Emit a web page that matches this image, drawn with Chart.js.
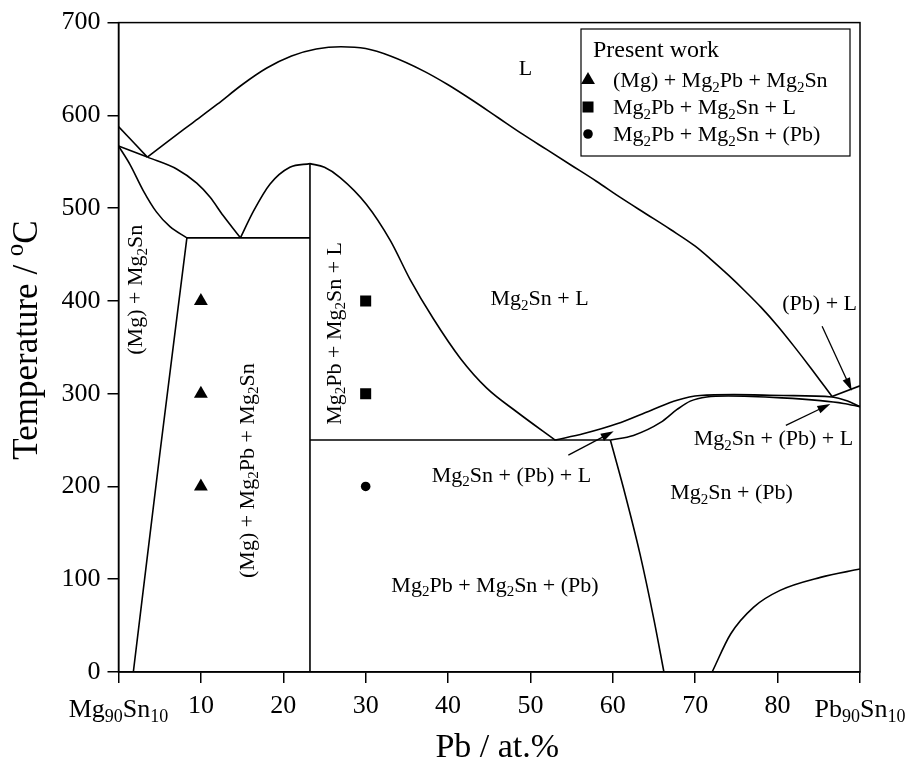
<!DOCTYPE html>
<html>
<head>
<meta charset="utf-8">
<script src="https://cdn.jsdelivr.net/npm/chart.js@4.4.0/dist/chart.umd.min.js"></script>
<style>
  html, body { margin: 0; padding: 0; background: #fff; }
  canvas { display: block; }
</style>
</head>
<body>
<canvas id="graphCanvas" width="908" height="770"></canvas>
<script>
// Phase boundaries, each point is [Pb at.%, temperature in C]
const liqMgEnd = [[0, 588], [3.5, 555]];
const solMgEnd = [[0, 567], [3.5, 555]];
const mgSolvusTop = [[0, 567], [1.4, 547], [3.0, 519], [4.6, 496], [6.25, 480], [8.3, 468]];
const mgSolvus = [[8.3, 468], [5.0, 234], [1.8, 0]];
const liqMgToEut = [[3.5, 555], [7.1, 542], [9.5, 527], [11.1, 512], [12.7, 492], [14.8, 468]];
const liqMg2Pb = [[14.8, 468], [16.4, 497], [18.4, 526], [20.8, 544], [23.24, 548]];
const liqMg2SnTop = [[3.5, 555], [6, 572], [9, 592], [12, 612], [15, 633], [18, 651], [21, 664],
  [24, 671.5], [27, 674], [30, 672], [33, 664], [37, 648], [40, 633], [43, 616], [46, 598],
  [49, 580], [52, 563], [55, 546], [58, 529], [61, 511], [64, 494], [67, 477], [70, 459],
  [72, 444], [74, 428], [76, 411], [78, 393], [80, 373], [82, 351], [84, 328], [86.6, 297]];
const liqMg2SnLow = [[23.24, 548], [25.0, 544], [26.9, 533], [30.1, 504], [33.0, 465], [35.4, 423],
  [38.2, 381], [41.5, 338], [44.7, 306], [48.4, 280], [53.0, 250]];
const mg2PbLine = [[23.24, 548], [23.24, 0]];
const eutMg = [[8.3, 468], [23.24, 468]];
const eutPb = [[23.24, 250], [59.7, 250]];
const band3Upper = [[53.0, 250], [56.5, 257], [60.5, 267.5], [64.6, 282], [67.8, 293], [70.6, 298],
  [74.7, 299], [80.7, 298], [86.6, 296.5], [88.5, 292], [90, 286]];
const band3Lower = [[59.7, 250], [62.5, 255], [65.8, 269], [67.8, 283], [69.4, 292], [71.4, 296.5],
  [74.0, 297.5], [80.5, 295.5], [85.2, 292.5], [88.0, 289.5], [90, 286]];
const liqPb = [[86.6, 297], [90, 308.5]];
const mg2SnPbLeft = [[59.7, 250], [61.3, 198], [63.3, 127], [65.0, 56], [66.2, 0]];
const pbSolvus = [[72.05, 0], [74.3, 41], [77.1, 70], [80.3, 88], [85.2, 102], [90, 111]];

const boundaries = [liqMgEnd, solMgEnd, mgSolvusTop, mgSolvus, liqMgToEut, liqMg2Pb, liqMg2SnTop,
  liqMg2SnLow, mg2PbLine, eutMg, eutPb, band3Upper, band3Lower, liqPb, mg2SnPbLeft, pbSolvus];

// Present work, measured points
const triX = [10, 10, 10];
const triT = [400, 300, 200];
const sqX = [30, 30];
const sqT = [400, 300];
const dotX = [30];
const dotT = [200];

const legendNames = ['(Mg) + Mg_{2}Pb + Mg_{2}Sn', 'Mg_{2}Pb + Mg_{2}Sn + L', 'Mg_{2}Pb + Mg_{2}Sn + (Pb)'];

// Axis ticks
const xTicks = [0, 10, 20, 30, 40, 50, 60, 70, 80, 90];
const yTicks = [0, 100, 200, 300, 400, 500, 600, 700];
const xEndLabels = ['Mg_{90}Sn_{10}', 'Pb_{90}Sn_{10}'];

// Region labels: text, x, T, rotated
const regionText = ['L', '(Mg) + Mg_{2}Sn', '(Mg) + Mg_{2}Pb + Mg_{2}Sn', 'Mg_{2}Pb + Mg_{2}Sn + L',
  'Mg_{2}Sn + L', '(Pb) + L', 'Mg_{2}Sn + (Pb) + L', 'Mg_{2}Sn + (Pb) + L', 'Mg_{2}Sn + (Pb)',
  'Mg_{2}Pb + Mg_{2}Sn + (Pb)'];
const regionX = [49.4, 2.0, 15.55, 26.1, 51.1, 85.1, 79.5, 47.7, 74.4, 45.7];
const regionT = [651, 412, 217, 365, 403, 398, 252, 213, 194, 94];
const regionRot = [0, 1, 1, 1, 0, 0, 0, 0, 0, 0];

// Arrows: from [x, T] to [x, T]
const arrows = [
  [[85.4, 372.7], [89.0, 303.2]],
  [[81.0, 265.8], [86.4, 288.9]],
  [[54.6, 233.7], [60.1, 259.4]]
];

const FONT = '"Liberation Serif", "Times New Roman", serif';

function pts(arr) {
  return arr.map(p => ({ x: p[0], y: p[1] }));
}
function zipPts(xs, ys) {
  return xs.map((x, i) => ({ x: x, y: ys[i] }));
}

// text with _{sub} and ^{sup}
function richParts(str) {
  const parts = [];
  const re = /([_^])\{([^}]*)\}|([^_^]+)/g;
  let m;
  while ((m = re.exec(str))) {
    if (m[3]) parts.push({ t: m[3], k: 0 });
    else parts.push({ t: m[2], k: m[1] === '_' ? 1 : -1 });
  }
  return parts;
}
function drawRich(ctx, str, x, y, size, align) {
  const parts = richParts(str);
  const small = Math.round(size * 0.7);
  let w = 0;
  parts.forEach(p => {
    ctx.font = (p.k ? small : size) + 'px ' + FONT;
    p.w = ctx.measureText(p.t).width;
    w += p.w;
  });
  let cx = align === 'center' ? x - w / 2 : (align === 'right' ? x - w : x);
  const base = y + size * 0.33;
  ctx.textAlign = 'left';
  ctx.textBaseline = 'alphabetic';
  parts.forEach(p => {
    ctx.font = (p.k ? small : size) + 'px ' + FONT;
    const dy = p.k === 1 ? size * 0.2 : (p.k === -1 ? -size * 0.4 : 0);
    ctx.fillText(p.t, cx, base + dy);
    cx += p.w;
  });
}

const decorPlugin = {
  id: 'decor',
  afterDatasetsDraw(chart) {
    const ctx = chart.ctx;
    const xs = chart.scales.x, ys = chart.scales.y;
    const a = chart.chartArea;
    ctx.save();
    ctx.fillStyle = '#000';
    ctx.strokeStyle = '#000';

    // frame
    ctx.lineWidth = 1.5;
    ctx.strokeRect(a.left, a.top, a.right - a.left, a.bottom - a.top);

    // arrows
    arrows.forEach(ar => {
      const x0 = xs.getPixelForValue(ar[0][0]), y0 = ys.getPixelForValue(ar[0][1]);
      const x1 = xs.getPixelForValue(ar[1][0]), y1 = ys.getPixelForValue(ar[1][1]);
      const ang = Math.atan2(y1 - y0, x1 - x0);
      const hl = 13, hw = 4;
      ctx.lineWidth = 1.3;
      ctx.beginPath();
      ctx.moveTo(x0, y0);
      ctx.lineTo(x1 - Math.cos(ang) * hl * 0.8, y1 - Math.sin(ang) * hl * 0.8);
      ctx.stroke();
      ctx.beginPath();
      ctx.moveTo(x1, y1);
      ctx.lineTo(x1 - Math.cos(ang) * hl - Math.sin(ang) * hw, y1 - Math.sin(ang) * hl + Math.cos(ang) * hw);
      ctx.lineTo(x1 - Math.cos(ang) * hl + Math.sin(ang) * hw, y1 - Math.sin(ang) * hl - Math.cos(ang) * hw);
      ctx.closePath();
      ctx.fill();
    });

    // region labels
    regionText.forEach((t, i) => {
      const px = xs.getPixelForValue(regionX[i]);
      const py = ys.getPixelForValue(regionT[i]);
      if (regionRot[i]) {
        ctx.save();
        ctx.translate(px, py);
        ctx.rotate(-Math.PI / 2);
        drawRich(ctx, t, 0, 0, 22, 'center');
        ctx.restore();
      } else {
        drawRich(ctx, t, px, py, 22, 'center');
      }
    });

    // legend box
    const bx = 581, by = 29, bw = 269, bh = 127;
    ctx.fillStyle = '#fff';
    ctx.fillRect(bx, by, bw, bh);
    ctx.fillStyle = '#000';
    ctx.lineWidth = 1.2;
    ctx.strokeRect(bx, by, bw, bh);
    drawRich(ctx, 'Present work', 593, 49, 24, 'left');
    const styles = [['triangle', 8], ['rect', 7.8], ['circle', 4.8]];
    legendNames.forEach((n, i) => {
      const ry = 80 + i * 27;
      Chart.helpers.drawPoint(ctx, { pointStyle: styles[i][0], radius: styles[i][1], rotation: 0, borderWidth: 0 }, 588, ry);
      drawRich(ctx, n, 613, ry, 22, 'left');
    });

    // x end tick labels
    drawRich(ctx, xEndLabels[0], xs.getPixelForValue(xTicks[0]), 708, 26, 'center');
    drawRich(ctx, xEndLabels[1], xs.getPixelForValue(xTicks[xTicks.length - 1]), 708, 26, 'center');

    // axis titles
    drawRich(ctx, 'Pb / at.%', (a.left + a.right) / 2 + 8, 746, 34, 'center');
    ctx.save();
    ctx.translate(25, 340);
    ctx.rotate(-Math.PI / 2);
    drawRich(ctx, 'Temperature / ^{o}C', 0, 0, 35, 'center');
    ctx.restore();
    ctx.restore();
  }
};

const lineSets = boundaries.map(b => ({
  data: pts(b),
  showLine: true,
  borderColor: '#000',
  borderWidth: 1.6,
  pointRadius: 0,
  cubicInterpolationMode: 'monotone',
  tension: b.length > 2 ? 0.4 : 0,
  fill: false
}));

const markerSets = [
  { data: zipPts(triX, triT), pointStyle: 'triangle', pointRadius: 8 },
  { data: zipPts(sqX, sqT), pointStyle: 'rect', pointRadius: 7.8 },
  { data: zipPts(dotX, dotT), pointStyle: 'circle', pointRadius: 4.8 }
].map(s => Object.assign(s, {
  showLine: false,
  backgroundColor: '#000',
  borderColor: '#000',
  borderWidth: 0,
  pointHoverRadius: s.pointRadius
}));

const tickFont = { family: FONT, size: 26 };

new Chart(document.getElementById('graphCanvas').getContext('2d'), {
  type: 'scatter',
  data: { datasets: lineSets.concat(markerSets) },
  options: {
    responsive: false,
    animation: false,
    events: [],
    layout: { padding: { top: 17, right: 48, left: 0, bottom: 0 } },
    plugins: { legend: { display: false }, tooltip: { enabled: false } },
    scales: {
      x: {
        type: 'linear', min: 0, max: 90,
        afterBuildTicks: s => { s.ticks = xTicks.map(v => ({ value: v })); },
        afterFit: s => { s.height = 98; },
        ticks: {
          font: tickFont, color: '#000', padding: 8, maxRotation: 0,
          callback: v => (v === xTicks[0] || v === xTicks[xTicks.length - 1]) ? '' : String(v)
        },
        grid: { drawOnChartArea: false, tickLength: 11, color: '#000', lineWidth: 1.5 },
        border: { color: '#000', width: 1.5 }
      },
      y: {
        type: 'linear', min: 0, max: 700,
        afterBuildTicks: s => { s.ticks = yTicks.map(v => ({ value: v })); },
        afterFit: s => { s.width = 118.5; },
        ticks: { font: tickFont, color: '#000', padding: 7 },
        grid: { drawOnChartArea: false, tickLength: 11, color: '#000', lineWidth: 1.5 },
        border: { color: '#000', width: 1.5 }
      }
    }
  },
  plugins: [decorPlugin]
});
</script>
</body>
</html>
